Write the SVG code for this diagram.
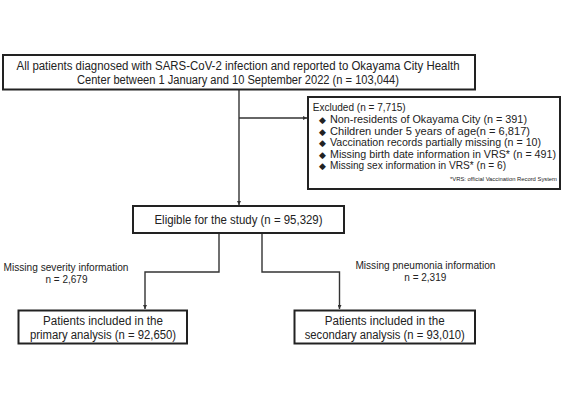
<svg xmlns="http://www.w3.org/2000/svg" width="563" height="400" viewBox="0 0 563 400">
<defs>
<marker id="ah" viewBox="0 0 10 10" refX="10" refY="5" markerWidth="4" markerHeight="4" orient="auto" markerUnits="userSpaceOnUse">
<path d="M0,0 L10,5 L0,10 z" fill="#333"/>
</marker>
<style>
.box{fill:#fff;stroke:#222;stroke-width:2}
.t{font-family:"Liberation Sans",Arial,sans-serif;fill:#222}
.t12{font-size:12px}
.t10{font-size:10px}
.t105{font-size:10.5px}
.t6{font-size:5.5px}
.c{text-anchor:middle}
.b{font-family:"DejaVu Sans",sans-serif;font-size:9px;fill:#222}
.ln{fill:none;stroke:#333;stroke-width:1.4}
</style>
</defs>
<rect width="563" height="400" fill="#fff"/>
<g id="connectors">
<path class="ln" d="M239,90 V205" marker-end="url(#ah)"/>
<path class="ln" d="M239,118 H307" marker-end="url(#ah)"/>
<path class="ln" d="M219,233 V272 H145 V309" marker-end="url(#ah)"/>
<path class="ln" d="M262,233 V272 H339.5 V309" marker-end="url(#ah)"/>
</g>
<g id="all-patients">
<rect class="box" x="3" y="55" width="472" height="34.5"/>
<text class="t t12 c" x="238" y="69.5" textLength="443" lengthAdjust="spacingAndGlyphs">All patients diagnosed with SARS-CoV-2 infection and reported to Okayama City Health</text>
<text class="t t12 c" x="238" y="84" textLength="322" lengthAdjust="spacingAndGlyphs">Center between 1 January and 10 September 2022 (n = 103,044)</text>
</g>
<g id="excluded">
<rect class="box" x="308" y="97" width="252" height="92"/>
<text class="t t105" x="312.7" y="111" textLength="93" lengthAdjust="spacingAndGlyphs">Excluded (n = 7,715)</text>
<text class="b" x="319" y="123">◆</text>
<text class="t t105" x="330" y="123" textLength="197" lengthAdjust="spacingAndGlyphs">Non-residents of Okayama City (n = 391)</text>
<text class="b" x="319" y="134.5">◆</text>
<text class="t t105" x="330" y="134.5" textLength="200" lengthAdjust="spacingAndGlyphs">Children under 5 years of age(n = 6,817)</text>
<text class="b" x="319" y="146">◆</text>
<text class="t t105" x="330" y="146" textLength="211" lengthAdjust="spacingAndGlyphs">Vaccination records partially missing (n = 10)</text>
<text class="b" x="319" y="157.5">◆</text>
<text class="t t105" x="330" y="157.5" textLength="226" lengthAdjust="spacingAndGlyphs">Missing birth date information in VRS* (n = 491)</text>
<text class="b" x="319" y="169">◆</text>
<text class="t t105" x="330" y="169" textLength="176" lengthAdjust="spacingAndGlyphs">Missing sex information in VRS* (n = 6)</text>
<text class="t t6" x="557" y="181" text-anchor="end" textLength="107" lengthAdjust="spacingAndGlyphs">*VRS: official Vaccination Record System</text>
</g>
<g id="eligible">
<rect class="box" x="133" y="206" width="211" height="27"/>
<text class="t t12 c" x="238.5" y="223.5" textLength="168" lengthAdjust="spacingAndGlyphs">Eligible for the study (n = 95,329)</text>
</g>
<g id="missing-severity">
<text class="t t10 c" x="66" y="271" textLength="125" lengthAdjust="spacingAndGlyphs">Missing severity information</text>
<text class="t t10 c" x="66.5" y="283">n = 2,679</text>
</g>
<g id="missing-pneumonia">
<text class="t t10 c" x="425.4" y="269" textLength="140" lengthAdjust="spacingAndGlyphs">Missing pneumonia information</text>
<text class="t t10 c" x="425.3" y="281">n = 2,319</text>
</g>
<g id="primary">
<rect class="box" x="18.5" y="310.5" width="168.5" height="33"/>
<text class="t t12 c" x="103" y="324.5" textLength="120" lengthAdjust="spacingAndGlyphs">Patients included in the</text>
<text class="t t12 c" x="103" y="338.5" textLength="146" lengthAdjust="spacingAndGlyphs">primary analysis (n = 92,650)</text>
</g>
<g id="secondary">
<rect class="box" x="294.5" y="310.5" width="180.5" height="33"/>
<text class="t t12 c" x="384.7" y="324.5" textLength="120" lengthAdjust="spacingAndGlyphs">Patients included in the</text>
<text class="t t12 c" x="384.7" y="338.5" textLength="160" lengthAdjust="spacingAndGlyphs">secondary analysis (n = 93,010)</text>
</g>
</svg>
